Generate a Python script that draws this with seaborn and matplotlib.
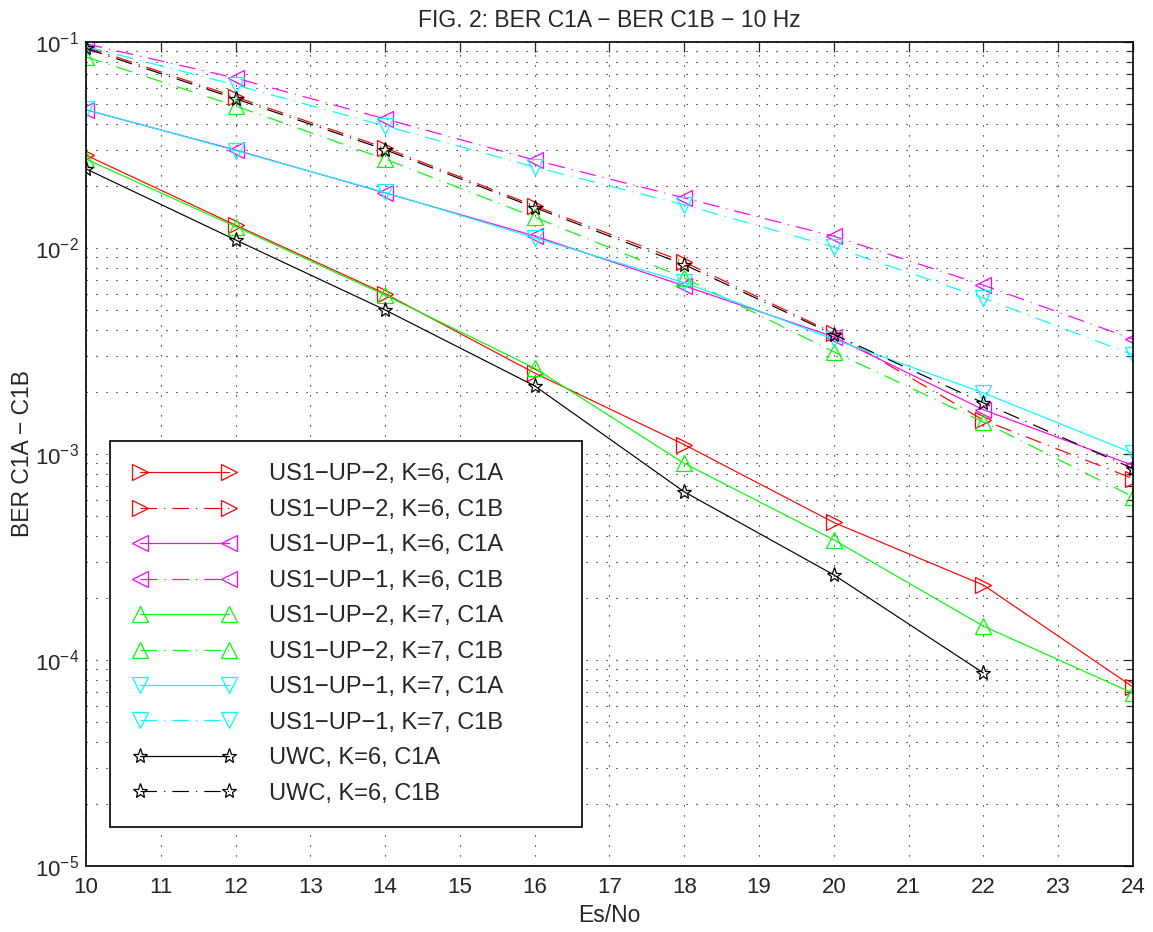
import seaborn as sns
from matplotlib import pyplot as plt
import pandas as pd

sns.set_style("white")
plt.rcParams["font.family"] = ["Liberation Sans", "DejaVu Sans"]
plt.rcParams["mathtext.fontset"] = "custom"
plt.rcParams["mathtext.rm"] = "Liberation Sans"
plt.rcParams["mathtext.it"] = "Liberation Sans"
plt.rcParams["axes.unicode_minus"] = True

esno = [10, 12, 14, 16, 18, 20, 22, 24]

labels = [
    "US1\u2212UP\u22122, K=6, C1A",
    "US1\u2212UP\u22122, K=6, C1B",
    "US1\u2212UP\u22121, K=6, C1A",
    "US1\u2212UP\u22121, K=6, C1B",
    "US1\u2212UP\u22122, K=7, C1A",
    "US1\u2212UP\u22122, K=7, C1B",
    "US1\u2212UP\u22121, K=7, C1A",
    "US1\u2212UP\u22121, K=7, C1B",
    "UWC, K=6, C1A",
    "UWC, K=6, C1B",
]

up2_k6_a = [0.0282, 0.0129, 0.0060, 0.00247, 0.00111, 0.000465, 0.000231, 0.000074]
up2_k6_b = [0.0946, 0.0541, 0.0306, 0.0160, 0.00855, 0.00386, 0.00146, 0.00076]
up1_k6_a = [0.0468, 0.0299, 0.0185, 0.01143, 0.00655, 0.0037, 0.00164, 0.00088]
up1_k6_b = [0.098, 0.0668, 0.0423, 0.0267, 0.0175, 0.0114, 0.0066, 0.00361]
up2_k7_a = [0.027, 0.0127, 0.0059, 0.00261, 0.00090, 0.000383, 0.000146, 0.000069]
up2_k7_b = [0.0846, 0.0489, 0.0270, 0.0141, 0.00715, 0.00313, 0.00143, 0.00062]
up1_k7_a = [0.0470, 0.0297, 0.0186, 0.0112, 0.0068, 0.0036, 0.00198, 0.00101]
up1_k7_b = [0.095, 0.0618, 0.0391, 0.0247, 0.0162, 0.0101, 0.00571, 0.00303]
uwc_k6_a = [0.0242, 0.01094, 0.0050, 0.00214, 0.000655, 0.000259, 0.0000865, None]
uwc_k6_b = [0.093, 0.053, 0.030, 0.0157, 0.0083, 0.0038, 0.00177, 0.00085]

series = [up2_k6_a, up2_k6_b, up1_k6_a, up1_k6_b, up2_k7_a,
          up2_k7_b, up1_k7_a, up1_k7_b, uwc_k6_a, uwc_k6_b]
colors = ["red", "red", "magenta", "magenta", "lime", "lime",
          "cyan", "cyan", "black", "black"]
markers = [">", ">", "<", "<", "^", "^", "v", "v", "*", "*"]
dashdot = (0, (14, 6, 1, 6))

fig = plt.figure(figsize=(11.53, 9.32), dpi=100)
ax = fig.add_axes([0.0746, 0.0708, 0.908, 0.8842])

for i, (lab, vals) in enumerate(zip(labels, series)):
    df = pd.DataFrame({"esno": esno, "ber": vals}).dropna()
    ls = "-" if i % 2 == 0 else dashdot
    ms = 12 if markers[i] != "*" else 11
    sns.lineplot(x="esno", y="ber", data=df, ax=ax, color=colors[i],
                 marker=markers[i], markersize=ms, markerfacecolor="none",
                 markeredgecolor=colors[i], markeredgewidth=0.9,
                 linestyle=ls, linewidth=0.85, label=lab)

ax.set_yscale("log")
ax.set_xlim(10, 24)
ax.set_ylim(1e-5, 1e-1)
ax.set_xticks(range(10, 25))
ax.grid(True, which="major", color="black", linestyle=(0, (1, 8)), linewidth=0.8)
ax.grid(True, which="minor", axis="y", color="black", linestyle=(0, (1, 8)), linewidth=0.8)
ax.tick_params(which="both", direction="in", top=True, right=True, labelsize=16)
ax.tick_params(axis="x", pad=8)
ax.tick_params(axis="y", pad=5)
ax.tick_params(which="major", length=7, width=0.9)
ax.tick_params(which="minor", length=4, width=0.9)
for s in ax.spines.values():
    s.set_linewidth(1.2)
    s.set_color("black")

ax.set_title("FIG. 2: BER C1A \u2212 BER C1B \u2212 10 Hz", fontsize=16.5, pad=11)
ax.set_xlabel("Es/No", fontsize=16.5, labelpad=4)
ax.set_ylabel("BER C1A \u2212 C1B", fontsize=16.5, labelpad=1)

leg = ax.legend(loc="lower left", bbox_to_anchor=(0.0229, 0.0473, 0.451, 0.478),
                mode="expand", fontsize=17,
                frameon=True, fancybox=False, edgecolor="black",
                handlelength=4.4, handletextpad=1.4, labelspacing=0.57,
                borderpad=0.95, borderaxespad=0, numpoints=2)
leg.get_frame().set_linewidth(1.2)
leg.get_frame().set_alpha(1)

plt.savefig("out.png", dpi=100)
